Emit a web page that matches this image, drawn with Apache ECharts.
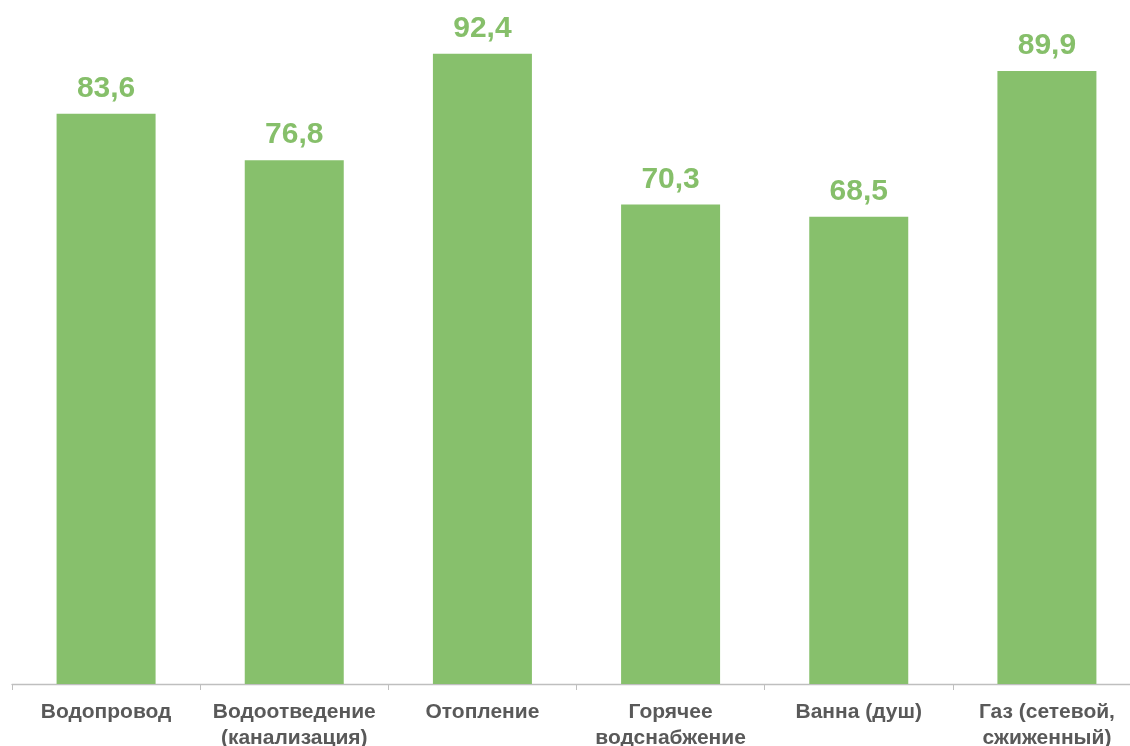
<!DOCTYPE html>
<html><head><meta charset="utf-8">
<script src="https://cdn.jsdelivr.net/npm/echarts@6/dist/echarts.min.js"></script>
<style>html,body{margin:0;padding:0;background:#fff}#c{width:1130px;height:746px}</style>
</head><body><div id="c"></div>
<script>
const categories = ['Водопровод', 'Водоотведение\n(канализация)', 'Отопление', 'Горячее\nводснабжение', 'Ванна (душ)', 'Газ (сетевой,\nсжиженный)'];
const values = [83.6, 76.8, 92.4, 70.3, 68.5, 89.9];
const chart = echarts.init(document.getElementById('c'));
chart.setOption({
  animation: false,
  grid: { left: 12, right: -11, top: 2, bottom: 62, containLabel: false, outerBoundsMode: 'none' },
  xAxis: {
    type: 'category', data: categories,
    axisLine: { lineStyle: { color: '#BFBFBF', width: 1.3 } },
    axisTick: { show: true, length: 6, lineStyle: { color: '#BFBFBF' } },
    axisLabel: { color: '#595959', fontFamily: 'Liberation Sans, Arial', fontWeight: 'bold', fontSize: 21, lineHeight: 26, margin: 15, interval: 0 }
  },
  yAxis: { type: 'value', min: 0, max: 100, show: false, splitLine: { show: false } },
  series: [{
    type: 'bar', data: values, barWidth: 99,
    itemStyle: { color: '#87C06C' },
    label: { show: true, position: 'top', distance: 10, color: '#86BF6A', fontFamily: 'Liberation Sans, Arial', fontWeight: 'bold', fontSize: 30,
      formatter: p => String(p.value).replace('.', ',') }
  }]
});
</script></body></html>
